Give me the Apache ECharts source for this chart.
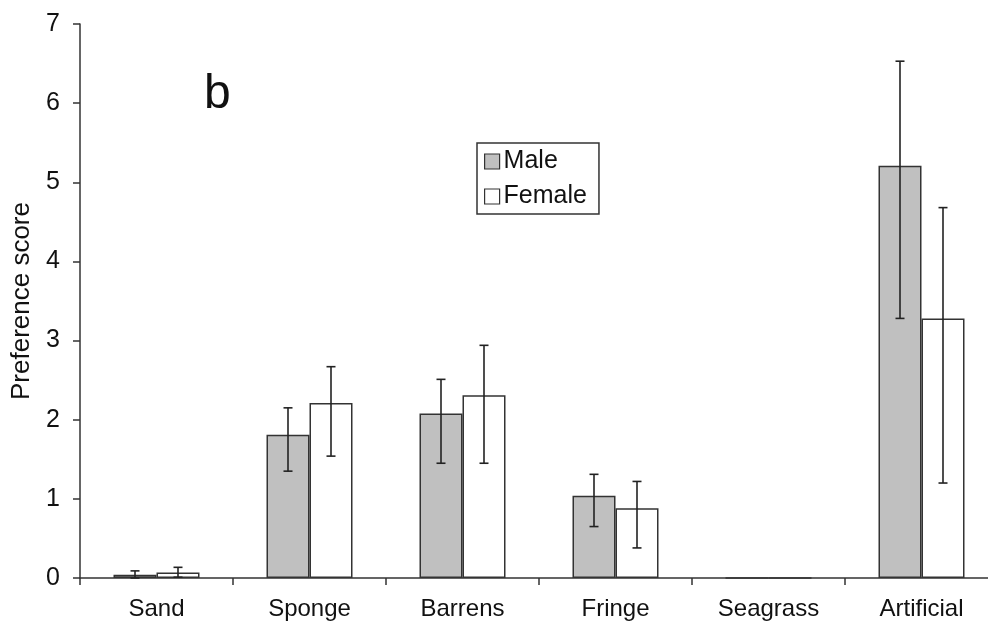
<!DOCTYPE html>
<html>
<head>
<meta charset="utf-8">
<script src="https://cdn.jsdelivr.net/npm/echarts@6/dist/echarts.min.js"></script>
<style>
  html, body { margin: 0; padding: 0; background: #fff; }
  #chart { width: 988px; height: 632px; }
</style>
</head>
<body>
<div id="chart"></div>
<script>
(function () {
	'use strict';

	// data
	var categories = ['Sand', 'Sponge', 'Barrens', 'Fringe', 'Seagrass', 'Artificial'];
	var maleMean = [0.04, 1.81, 2.08, 1.04, 0, 5.21];
	var maleLow = [0.0, 1.35, 1.45, 0.65, 0, 3.28];
	var maleHigh = [0.09, 2.15, 2.51, 1.31, 0, 6.53];
	var femaleMean = [0.07, 2.21, 2.31, 0.88, 0, 3.28];
	var femaleLow = [0.01, 1.54, 1.45, 0.38, 0, 1.20];
	var femaleHigh = [0.135, 2.67, 2.94, 1.22, 0, 4.68];
	var yTicks = [0, 1, 2, 3, 4, 5, 6, 7];

	var font = 'Liberation Sans, Arial, sans-serif';
	var ink = '#333';
	var barW = 43;

	function errData(low, high) {
		var out = [];
		for (var i = 0; i < categories.length; i++) {
			if (high[i] > 0) out.push([i, low[i], high[i]]);
		}
		return out;
	}

	function errRender(shift) {
		return function (params, api) {
			var i = api.value(0);
			var lo = api.coord([i, api.value(1)]);
			var hi = api.coord([i, api.value(2)]);
			var x = lo[0] + shift;
			var cap = 4.5;
			var style = { stroke: '#222', lineWidth: 1.6 };
			return {
				type: 'group',
				children: [
					{ type: 'line', shape: { x1: x, y1: lo[1], x2: x, y2: hi[1] }, style: style },
					{ type: 'line', shape: { x1: x - cap, y1: hi[1], x2: x + cap, y2: hi[1] }, style: style },
					{ type: 'line', shape: { x1: x - cap, y1: lo[1], x2: x + cap, y2: lo[1] }, style: style }
				]
			};
		};
	}

	var myChart = echarts.init(document.getElementById('chart'));
	var option = {
		animation: false,
		backgroundColor: '#fff',
		// axis runs past the right edge of the picture, as in the scan
		grid: { left: 80, width: 918, top: 24, bottom: 54, outerBoundsMode: 'none', containLabel: false },
		title: {
			text: 'b',
			left: 199, top: 66,
			textStyle: { fontFamily: font, fontSize: 48, fontWeight: 'normal', color: '#111' }
		},
		legend: {
			orient: 'vertical',
			left: 477, top: 143,
			padding: [6, 12, 5, 7],
			itemGap: 10,
			itemWidth: 15, itemHeight: 15,
			borderColor: ink, borderWidth: 1.5,
			icon: 'rect',
			itemStyle: { borderColor: ink, borderWidth: 1.2 },
			textStyle: { fontFamily: font, fontSize: 25, color: '#111', padding: [0, 0, 0, -1] },
			data: ['Male', 'Female']
		},
		xAxis: {
			type: 'category',
			data: categories,
			boundaryGap: true,
			axisLine: { lineStyle: { color: ink, width: 1.5 } },
			axisTick: { show: true, length: 7, lineStyle: { color: ink, width: 1.5 } },
			axisLabel: { fontFamily: font, fontSize: 24, color: '#111', margin: 19 }
		},
		yAxis: {
			type: 'value',
			min: 0, max: 7, interval: 1,
			name: 'Preference score',
			nameLocation: 'middle',
			nameGap: 45,
			nameTextStyle: { fontFamily: font, fontSize: 26, color: '#111' },
			splitLine: { show: false },
			axisLine: { show: true, lineStyle: { color: ink, width: 1.5 } },
			axisTick: { show: true, length: 7, lineStyle: { color: ink, width: 1.5 } },
			axisLabel: {
				fontFamily: font, fontSize: 25, color: '#111', margin: 20,
				formatter: function (v) { return yTicks.indexOf(v) >= 0 ? String(v) : ''; }
			}
		},
		series: [
			{
				name: 'Male', type: 'bar', data: maleMean,
				barWidth: barW, barGap: '0%',
				itemStyle: { color: '#c0c0c0', borderColor: ink, borderWidth: 1.5 }
			},
			{
				name: 'Female', type: 'bar', data: femaleMean,
				barWidth: barW, barGap: '0%',
				itemStyle: { color: '#fff', borderColor: ink, borderWidth: 1.5 }
			},
			{
				type: 'custom', data: errData(maleLow, maleHigh),
				renderItem: errRender(-barW / 2), z: 5, silent: true
			},
			{
				type: 'custom', data: errData(femaleLow, femaleHigh),
				renderItem: errRender(barW / 2), z: 5, silent: true
			}
		]
	};
	myChart.setOption(option);
})();
</script>
</body>
</html>
